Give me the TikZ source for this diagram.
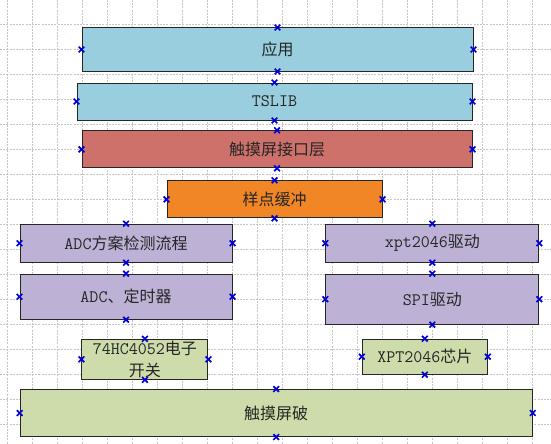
\documentclass[tikz,border=0pt]{standalone}
\usepackage{fontspec}
\newfontfamily\cjk{Noto Sans CJK SC}
\newcommand{\lat}[1]{{\fontsize{17.5}{21.5}\selectfont\ttfamily #1}}
\usetikzlibrary{shapes.misc}
\definecolor{layerblue}{RGB}{152,206,221}
\definecolor{layerred}{RGB}{205,113,106}
\definecolor{layerorange}{RGB}{240,134,38}
\definecolor{layerpurple}{RGB}{189,178,214}
\definecolor{layergreen}{RGB}{205,220,170}
\begin{document}
\begin{tikzpicture}[x=1pt,y=-1pt]
		\tikzstyle{Box} = [rectangle, draw=black!85, line width=1pt, text=black!85, align=center, inner sep=0pt, font=\fontsize{16}{21.5}\selectfont\cjk]
		\tikzstyle{Cross} = [cross out, draw=blue!85!black, line width=1.7pt, minimum size=4pt, inner sep=0pt]
		\tikzstyle{gridline} = [gray!45, line width=0.6pt, dash pattern=on 2pt off 1.2pt]
		
		\useasboundingbox (0,0) rectangle (551,444);
		\fill [white] (0,0) rectangle (551,444);
		\foreach \x in {7,32,...,532}
		\draw [gridline] (\x,0) -- (\x,444);
		\foreach \y in {24,49,...,424}
		\draw [gridline] (0,\y) -- (551,\y);
		
		\node (app) [Box, fill=layerblue, minimum width=391pt, minimum height=43pt] at (277.5,49.5) {应用};
		\node (tslib) [Box, fill=layerblue, minimum width=395pt, minimum height=37pt] at (274.5,101.5) {\lat{TSLIB}};
		\node (iface) [Box, fill=layerred, minimum width=390pt, minimum height=37pt] at (277,149.3) {触摸屏接口层};
		\node (buf) [Box, fill=layerorange, minimum width=215pt, minimum height=37pt] at (274.5,199.3) {样点缓冲};
		
		\node (adcflow) [Box, fill=layerpurple, minimum width=212pt, minimum height=38pt] at (126,243.2) {\lat{ADC}方案检测流程};
		\node (adctimer) [Box, fill=layerpurple, minimum width=212pt, minimum height=45pt] at (126,296.7) {\lat{ADC}、定时器};
		\node (xptdrv) [Box, fill=layerpurple, minimum width=213pt, minimum height=38pt] at (432.3,243.2) {\lat{xpt2046}驱动};
		\node (spi) [Box, fill=layerpurple, minimum width=213pt, minimum height=50pt] at (432.3,299.2) {\lat{SPI}驱动};
		
		\node (sw) [Box, fill=layergreen, minimum width=126pt, minimum height=40pt] at (144.9,359.3) {\lat{74HC4052}电子\\开关};
		\node (chip) [Box, fill=layergreen, minimum width=125pt, minimum height=35pt] at (424.8,356.7) {\lat{XPT2046}芯片};
		\node (screen) [Box, fill=layergreen, minimum width=512pt, minimum height=47pt] at (276.2,413) {触摸屏破};
		
		\foreach \n in {app,tslib,iface,buf,adcflow,adctimer,xptdrv,spi,sw,chip,screen}
		\foreach \a in {north,south,east,west}
		\node (\n-\a) [Cross] at (\n.\a) {};
\end{tikzpicture}
\end{document}
